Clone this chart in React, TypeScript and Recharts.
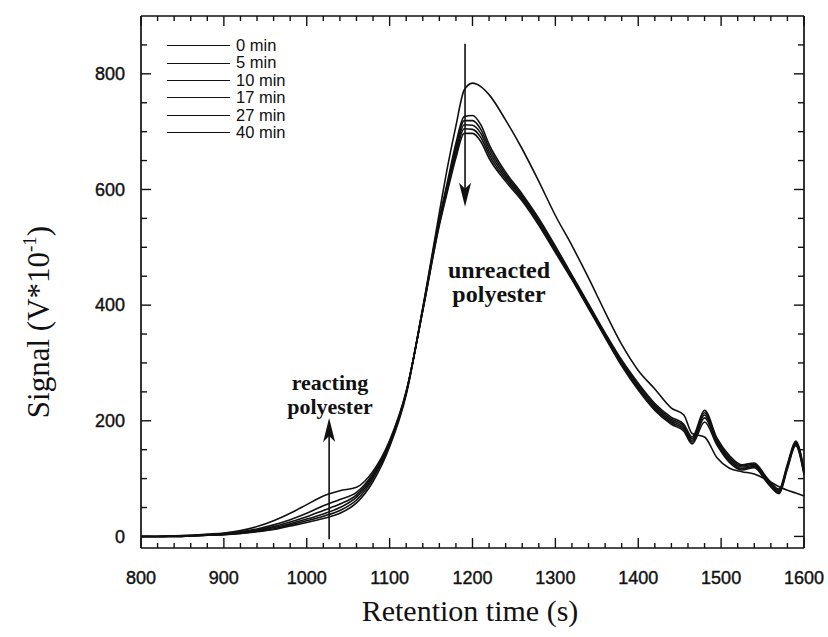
import React from 'react';
import { LineChart, Line, XAxis, YAxis, Legend, ReferenceLine, ReferenceDot } from 'recharts';

// Retention time (s)
const times = [800, 820, 840, 860, 880, 900, 920, 940, 960, 980, 1000, 1020, 1040, 1060, 1080, 1100, 1120, 1140, 1160, 1170, 1180, 1190, 1200, 1210, 1220, 1240, 1260, 1280, 1300, 1320, 1340, 1360, 1380, 1400, 1420, 1440, 1455, 1465, 1480, 1495, 1510, 1525, 1540, 1555, 1570, 1580, 1590, 1600];

const min0 = [0, 0, 0, 1, 2, 3, 5, 8, 12, 18, 24, 31, 40, 58, 95, 155, 245, 395, 560, 640, 710, 772, 784, 778, 764, 720, 670, 614, 555, 503, 447, 388, 332, 287, 255, 222, 210, 178, 172, 136, 118, 112, 108, 98, 86, 80, 75, 70];
const min5 = [0, 0, 0, 1, 2, 3, 5, 9, 13, 20, 27, 35, 45, 63, 100, 158, 248, 395, 550, 615, 680, 726, 728, 712, 678, 630, 592, 550, 502, 452, 402, 352, 305, 265, 230, 206, 194, 172, 218, 170, 140, 124, 127, 102, 82, 125, 165, 115];
const min10 = [0, 0, 0, 1, 2, 4, 6, 10, 15, 22, 30, 39, 50, 68, 103, 160, 248, 393, 547, 610, 673, 719, 719, 704, 672, 626, 589, 547, 500, 450, 400, 350, 302, 262, 227, 203, 191, 169, 214, 167, 137, 122, 125, 100, 80, 123, 163, 113];
const min17 = [0, 0, 1, 1, 3, 4, 7, 11, 17, 25, 34, 45, 56, 72, 106, 162, 249, 392, 544, 606, 667, 712, 711, 697, 666, 622, 586, 544, 497, 448, 398, 348, 300, 259, 224, 200, 188, 166, 210, 164, 134, 120, 123, 98, 78, 121, 161, 111];
const min27 = [0, 0, 1, 2, 3, 5, 8, 13, 20, 29, 40, 53, 64, 76, 109, 164, 250, 391, 541, 602, 661, 705, 704, 690, 660, 618, 583, 541, 494, 446, 396, 346, 297, 256, 221, 197, 185, 163, 205, 161, 131, 117, 121, 96, 76, 119, 159, 109];
const min40 = [0, 0, 1, 2, 4, 6, 10, 17, 27, 40, 55, 70, 79, 85, 113, 166, 251, 390, 538, 598, 655, 697, 697, 683, 654, 614, 580, 538, 491, 444, 394, 344, 295, 253, 218, 194, 182, 160, 198, 158, 128, 115, 119, 94, 74, 117, 157, 107];

const seriesNames = ['0 min', '5 min', '10 min', '17 min', '27 min', '40 min'];
const seriesKeys = ['m0', 'm5', 'm10', 'm17', 'm27', 'm40'];
const seriesValues = [min0, min5, min10, min17, min27, min40];

const xTicks = [800, 820, 840, 860, 880, 900, 920, 940, 960, 980, 1000, 1020, 1040, 1060, 1080, 1100, 1120, 1140, 1160, 1180, 1200, 1220, 1240, 1260, 1280, 1300, 1320, 1340, 1360, 1380, 1400, 1420, 1440, 1460, 1480, 1500, 1520, 1540, 1560, 1580, 1600];
const xLabelTicks = [800, 900, 1000, 1100, 1200, 1300, 1400, 1500, 1600];
const yTicks = [0, 50, 100, 150, 200, 250, 300, 350, 400, 450, 500, 550, 600, 650, 700, 750, 800, 850];
const yLabelTicks = [0, 200, 400, 600, 800];

const data = times.map((t, i) => {
  const row: Record<string, number> = { t };
  seriesKeys.forEach((k, j) => { row[k] = seriesValues[j][i]; });
  return row;
});

const INK = '#111';
const SANS = '"Liberation Sans", Arial, sans-serif';
const SERIF = '"Liberation Serif", "Times New Roman", serif';

const BottomTick = (props: any) => {
  const { x, y, payload } = props;
  const v = payload.value;
  const major = xLabelTicks.includes(v);
  return (
    <g>
      <line x1={x} y1={y} x2={x} y2={y - (major ? 10 : 5)} stroke={INK} strokeWidth={1.4} />
      {major && (
        <text x={x} y={y + 36} textAnchor="middle" fontFamily={SANS} fontSize={18} fill={INK}
          stroke={INK} strokeWidth={0.4}>{v}</text>
      )}
    </g>
  );
};

const TopTick = (props: any) => {
  const { x, y, payload } = props;
  const major = xLabelTicks.includes(payload.value);
  return <line x1={x} y1={y} x2={x} y2={y + (major ? 10 : 5)} stroke={INK} strokeWidth={1.4} />;
};

const LeftTick = (props: any) => {
  const { x, y, payload } = props;
  const v = payload.value;
  const major = yLabelTicks.includes(v);
  return (
    <g>
      <line x1={x} y1={y} x2={x + (major ? 10 : 6)} y2={y} stroke={INK} strokeWidth={1.4} />
      {major && (
        <text x={x - 16} y={y} dy="0.35em" textAnchor="end" fontFamily={SANS} fontSize={18} fill={INK}
          stroke={INK} strokeWidth={0.4}>{v}</text>
      )}
    </g>
  );
};

const RightTick = (props: any) => {
  const { x, y, payload } = props;
  const major = yLabelTicks.includes(payload.value);
  return <line x1={x} y1={y} x2={x - (major ? 10 : 6)} y2={y} stroke={INK} strokeWidth={1.4} />;
};

const Arrow = (props: any) => {
  const { x1, y1, x2, y2 } = props;
  const dir = Math.sign(y2 - y1);
  return (
    <g>
      <line x1={x1} y1={y1} x2={x2} y2={y2 - dir * 12} stroke={INK} strokeWidth={1.6} />
      <path d={`M${x2},${y2} L${x2 - 6},${y2 - dir * 24} L${x2},${y2 - dir * 18} L${x2 + 6},${y2 - dir * 24} Z`} fill={INK} />
    </g>
  );
};

const makeLabel = (txt: string, size: number) => (p: any) => (
  <text x={p.cx} y={p.cy} textAnchor="middle" fontFamily={SERIF} fontWeight="bold" fontSize={size} fill={INK}>{txt}</text>
);

const renderLegend = (props: any) => {
  const payload = (props.payload || [])
    .filter((p: any) => p.type !== 'none' && seriesNames.includes(p.value))
    .slice()
    .sort((a: any, b: any) => seriesNames.indexOf(a.value) - seriesNames.indexOf(b.value));
  return (
    <div style={{ fontFamily: SANS, fontSize: 16.5, color: INK, lineHeight: '17.4px' }}>
      {payload.map((p: any) => (
        <div key={p.value} style={{ display: 'flex', alignItems: 'center', height: 17.4 }}>
          <div style={{ width: 63, borderTop: `1.5px solid ${INK}`, marginRight: 6 }} />
          <span>{p.value}</span>
        </div>
      ))}
    </div>
  );
};

export default function App() {
  return (
    <div style={{ position: 'absolute', left: 0, top: 0, width: 828, height: 637, background: '#fff' }}>
      <LineChart width={828} height={637} data={data} margin={{ top: 6, right: 14, bottom: 29, left: 81 }}>
        <XAxis dataKey="t" type="number" domain={[800, 1600]} ticks={xTicks} interval={0} height={60}
          tickSize={0} tickMargin={0} tickLine={false} axisLine={{ stroke: INK, strokeWidth: 1.7 }}
          tick={(p: any) => <BottomTick {...p} />} />
        <XAxis xAxisId="top" orientation="top" dataKey="t" type="number" domain={[800, 1600]} ticks={xTicks}
          interval={0} height={10} tickSize={0} tickMargin={0} tickLine={false}
          axisLine={{ stroke: INK, strokeWidth: 1.7 }} tick={(p: any) => <TopTick {...p} />} />
        <YAxis type="number" domain={[-20, 900]} ticks={yTicks} interval={0} width={60} tickSize={0}
          tickMargin={0} tickLine={false} axisLine={{ stroke: INK, strokeWidth: 1.7 }}
          tick={(p: any) => <LeftTick {...p} />} />
        <YAxis yAxisId="right" orientation="right" type="number" domain={[-20, 900]} ticks={yTicks}
          interval={0} width={10} tickSize={0} tickMargin={0} tickLine={false}
          axisLine={{ stroke: INK, strokeWidth: 1.7 }} tick={(p: any) => <RightTick {...p} />} />
        <Line xAxisId="top" yAxisId="right" dataKey="m0" stroke="none" dot={false} legendType="none"
          isAnimationActive={false} />
        {seriesKeys.map((k, j) => (
          <Line key={k} dataKey={k} name={seriesNames[j]} type="monotone" stroke={INK} strokeWidth={1.6}
            dot={false} isAnimationActive={false} />
        ))}
        <ReferenceLine segment={[{ x: 1191, y: 852 }, { x: 1191, y: 570 }]} shape={(p: any) => <Arrow {...p} />} />
        <ReferenceLine segment={[{ x: 1027, y: -5 }, { x: 1027, y: 205 }]} shape={(p: any) => <Arrow {...p} />} />
        <ReferenceDot x={1232} y={447} r={0} shape={makeLabel('unreacted', 24)} />
        <ReferenceDot x={1232} y={405} r={0} shape={makeLabel('polyester', 24)} />
        <ReferenceDot x={1028} y={253} r={0} shape={makeLabel('reacting', 22)} />
        <ReferenceDot x={1028} y={211} r={0} shape={makeLabel('polyester', 22)} />
        <Legend content={renderLegend} layout="vertical" align="center" verticalAlign="middle"
          wrapperStyle={{ position: 'absolute', left: 167, top: 37, width: 150, height: 110 }} />
      </LineChart>
      <svg width={828} height={637} style={{ position: 'absolute', left: 0, top: 0, pointerEvents: 'none' }}>
        <text x={470} y={621} textAnchor="middle" fontFamily={SERIF} fontSize={30} fill={INK}>Retention time (s)</text>
        <text transform="translate(49,322) rotate(-90)" textAnchor="middle" fontFamily={SERIF} fontSize={31} fill={INK}>
          Signal (V*10<tspan fontSize={19} dy={-13}>-1</tspan><tspan dy={13}>)</tspan>
        </text>
      </svg>
    </div>
  );
}
